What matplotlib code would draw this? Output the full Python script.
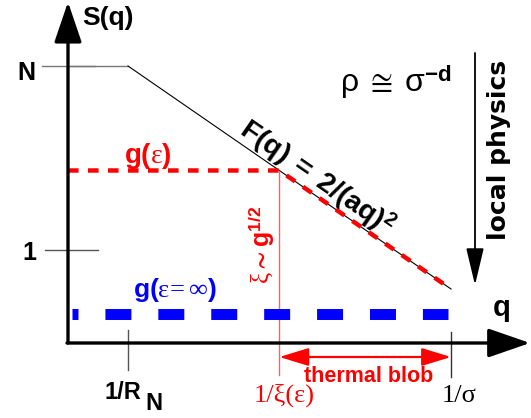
import matplotlib.pyplot as plt
import numpy as np

plt.rcParams['font.family'] = ['Liberation Sans', 'DejaVu Sans']
plt.rcParams['mathtext.fontset'] = 'custom'
plt.rcParams['mathtext.rm'] = 'Liberation Serif'
plt.rcParams['mathtext.it'] = 'Liberation Serif:italic'
plt.rcParams['mathtext.bf'] = 'Liberation Sans:bold'
plt.rcParams['mathtext.sf'] = 'Liberation Sans'
plt.rcParams['mathtext.fallback'] = 'stix'
plt.rcParams['lines.scale_dashes'] = False

# schematic structure factor (log-log sketch, arbitrary units)
F_q = [0, 60, 383]          # plateau up to 1/R_N, then the q^-2 decay to 1/sigma
F_S = [277, 277, 54]
q_RN = 60
q_sigma = 383
S_N = 277
S_geps = 172.5              # g(eps) plateau
S_one = 93
S_ginf = 29.5               # g(eps = inf)

# 1/xi(eps): where the g(eps) plateau meets F(q)
q_xi = np.interp(S_geps, [F_S[2], F_S[1]], [F_q[2], F_q[1]])

RED = '#ff0000'
BLUE = '#0000ff'

fig = plt.figure(figsize=(5.31, 4.18), dpi=100)
ax = fig.add_axes([0, 0, 1, 1])
ax.set_xlim(-68, 463)
ax.set_ylim(-75, 343)
ax.axis('off')

# axes with arrow heads
ax.annotate('', xy=(0, 341), xytext=(0, 0),
            arrowprops=dict(arrowstyle='-|>,head_length=2.5,head_width=0.85',
                            mutation_scale=10, lw=2.4, color='black',
                            shrinkA=0, shrinkB=0))
ax.annotate('', xy=(462, 0), xytext=(-1, 0),
            arrowprops=dict(arrowstyle='-|>,head_length=2.6,head_width=0.9',
                            mutation_scale=10, lw=2.4, color='black',
                            shrinkA=0, shrinkB=0))

# ticks
ax.plot([-26, 27], [S_N, S_N], color='#777777', lw=1)
ax.plot([-23, 30], [S_one, S_one], color='#555555', lw=1)
ax.plot([q_RN, q_RN], [13, -27], color='#555555', lw=1)
ax.plot([q_sigma, q_sigma], [11, -34], color='#333333', lw=1)

# F(q)
ax.plot(F_q[:2], F_S[:2], color='#777777', lw=1)
ax.plot(F_q[1:], F_S[1:], color='black', lw=0.8)

# g(eps) plateau continuing along F(q)
ax.plot([0, q_xi, q_sigma], [S_geps, S_geps, F_S[2]], color=RED, lw=3.2,
        ls=(0, (7.6, 6.8)), dash_capstyle='butt')
ax.plot([q_xi, q_xi], [S_geps, -32], color='#ff6060', lw=1)

# g(eps = inf)
ax.plot([4, 380], [S_ginf, S_ginf], color=BLUE, lw=7.9,
        ls=(14.4, (18.7, 19.4)), dash_capstyle='butt')

# local physics arrow
ax.annotate('', xy=(407, 58), xytext=(407, 290),
            arrowprops=dict(arrowstyle='-|>,head_length=2.3,head_width=0.55',
                            mutation_scale=10, lw=1.3, color='black',
                            shrinkA=0, shrinkB=0))

# thermal blob span
ax.annotate('', xy=(q_sigma, -14), xytext=(q_xi, -14),
            arrowprops=dict(arrowstyle='<|-|>,head_length=1.8,head_width=0.55',
                            mutation_scale=10, lw=1.6, color=RED,
                            shrinkA=0, shrinkB=0))

# labels
ax.text(14, 318, 'S(q)', fontsize=19, fontweight='bold', ha='left', va='baseline')
ax.text(-42, 263, 'N', fontsize=18, fontweight='bold', ha='center', va='baseline')
ax.text(-39, 83, '1', fontsize=18, fontweight='bold', ha='center', va='baseline')
ax.text(434, 27, 'q', fontsize=21, fontweight='bold', ha='center', va='baseline')
ax.text(37, -56, '1/R', fontsize=17, fontweight='bold', ha='left', va='baseline')
ax.text(77, -67, 'N', fontsize=17, fontweight='bold', ha='left', va='baseline')
ax.text(216, -59, '1/ξ(ε)', fontsize=19, color=RED, ha='center', va='baseline',
        family='Liberation Serif')
ax.text(391, -59, '1/σ', fontsize=19, ha='center', va='baseline',
        family='Liberation Serif')
ax.text(301, -39, 'thermal blob', fontsize=15.5, fontweight='bold', color=RED,
        ha='center', va='baseline')

ax.text(80, 180, r'$\mathbf{g(}\mathrm{\varepsilon}\mathbf{)}$', fontsize=20,
        color=RED, ha='center', va='baseline')
ax.text(107, 46, r'$\mathbf{g(}\mathrm{\varepsilon\!=\infty}\mathbf{)}$', fontsize=19,
        color=BLUE, ha='center', va='baseline')
ax.text(202, 98, r'$\mathrm{\xi}\mathbf{\sim g}^{\mathbf{1/2}}$', fontsize=18,
        color=RED, rotation=90, rotation_mode='anchor', ha='center', va='baseline')
ax.text(328, 251, r'$\mathsf{\rho\ \cong\ \sigma}^{\mathbf{-d}}$', fontsize=23,
        ha='center', va='baseline')
ax.text(438, 193, 'local physics', fontsize=18, fontweight='bold',
        family='DejaVu Sans', rotation=90, rotation_mode='anchor',
        ha='center', va='baseline')

# F(q) label laid along the decay
ang = np.degrees(np.arctan2(F_S[2] - F_S[1], F_q[2] - F_q[1]))
xm = 240
ym = F_S[1] + (xm - F_q[1]) * (F_S[2] - F_S[1]) / (F_q[2] - F_q[1])
nrm = np.radians(ang + 90)
ax.annotate(r'$\mathbf{F(q)\ =\ 2/(aq)}^{\mathbf{2}}$', xy=(xm, ym),
            xytext=(5.5 * np.cos(nrm), 5.5 * np.sin(nrm)), textcoords='offset points',
            fontsize=20.5, rotation=ang, rotation_mode='anchor',
            ha='center', va='baseline')

fig.savefig('out.png', dpi=100)
